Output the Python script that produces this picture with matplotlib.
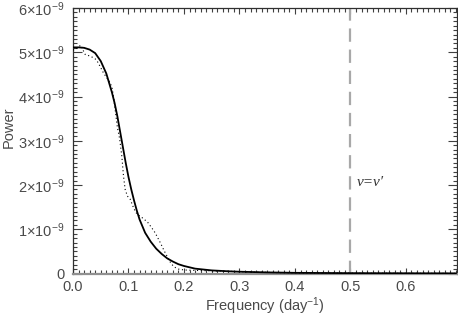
import matplotlib
matplotlib.use("Agg")
import matplotlib.pyplot as plt
from matplotlib.ticker import MultipleLocator, FixedLocator

plt.rcParams['font.family'] = ['Liberation Sans', 'DejaVu Sans']
plt.rcParams['mathtext.fontset'] = 'custom'
plt.rcParams['mathtext.rm'] = 'Liberation Sans'
plt.rcParams['mathtext.it'] = 'Liberation Sans:italic'
plt.rcParams['mathtext.default'] = 'regular'

# Smooth model power spectrum (solid)
model_freq = [0.000, 0.010, 0.020, 0.030, 0.040, 0.050, 0.060, 0.070, 0.075, 0.080,
              0.085, 0.090, 0.095, 0.100, 0.105, 0.110, 0.115, 0.120, 0.130, 0.140,
              0.150, 0.160, 0.170, 0.180, 0.190, 0.200, 0.220, 0.250, 0.280, 0.300,
              0.350, 0.400, 0.500, 0.600, 0.690]
model_power = [5.11, 5.11, 5.10, 5.06, 4.98, 4.80, 4.52, 4.10, 3.85, 3.55,
               3.20, 2.85, 2.50, 2.18, 1.90, 1.65, 1.42, 1.22, 0.92, 0.72,
               0.56, 0.44, 0.34, 0.27, 0.21, 0.17, 0.11, 0.07, 0.05, 0.04,
               0.025, 0.015, 0.008, 0.005, 0.003]

# Measured power spectrum (dotted)
data_freq = [0.000, 0.005, 0.010, 0.014, 0.018, 0.022, 0.027, 0.033, 0.040, 0.045,
             0.050, 0.055, 0.060, 0.065, 0.070, 0.073, 0.076, 0.080, 0.084, 0.088,
             0.091, 0.094, 0.098, 0.103, 0.108, 0.113, 0.120, 0.127, 0.135, 0.142,
             0.148, 0.153, 0.158, 0.164, 0.170, 0.176, 0.182, 0.190, 0.200, 0.220,
             0.250, 0.280, 0.300, 0.350, 0.400, 0.500, 0.600, 0.690]
data_power = [5.05, 5.07, 5.12, 5.16, 5.05, 4.95, 4.93, 4.90, 4.85, 4.77,
              4.65, 4.53, 4.44, 4.35, 4.22, 4.00, 3.70, 3.30, 3.05, 2.65,
              2.20, 1.90, 1.75, 1.68, 1.52, 1.38, 1.30, 1.24, 1.15, 1.03,
              0.92, 0.80, 0.68, 0.52, 0.38, 0.24, 0.15, 0.10, 0.08, 0.07,
              0.06, 0.05, 0.04, 0.025, 0.015, 0.008, 0.005, 0.003]

scale = 1e-9
nu_prime = 0.5

x_ticks = [0.0, 0.1, 0.2, 0.3, 0.4, 0.5, 0.6]
x_tick_labels = ['0.0', '0.1', '0.2', '0.3', '0.4', '0.5', '0.6']
y_ticks = [0, 1, 2, 3, 4, 5, 6]
y_tick_labels = ['0', '1×10$^{-9}$', '2×10$^{-9}$', '3×10$^{-9}$',
                 '4×10$^{-9}$', '5×10$^{-9}$', '6×10$^{-9}$']

text_color = '#4a4a4a'

fig = plt.figure(figsize=(4.58, 3.18), dpi=100)
ax = fig.add_axes([73/458, 44.5/318, 384/458, 265.5/318])

ax.plot(model_freq, [p * scale for p in model_power], color='black', lw=1.3, zorder=3)
ax.plot(data_freq, [p * scale for p in data_power], color='black', lw=0.8,
        linestyle=(0, (1, 2.4)), zorder=3)
ax.axvline(nu_prime, color='#a8a8a8', lw=1.6, linestyle=(0, (6, 3.5)), zorder=2)
ax.text(0.512, 2.06e-9, 'ν=ν\u2032', fontsize=11, color='#303030',
        family=['Liberation Serif', 'DejaVu Serif'], style='italic',
        va='center', ha='left')

ax.set_xlim(0, 0.692)
ax.set_ylim(0, 6e-9)

ax.xaxis.set_major_locator(FixedLocator(x_ticks))
ax.set_xticklabels(x_tick_labels)
ax.yaxis.set_major_locator(FixedLocator([v * scale for v in y_ticks]))
ax.set_yticklabels(y_tick_labels)
ax.xaxis.set_minor_locator(MultipleLocator(0.01))
ax.yaxis.set_minor_locator(MultipleLocator(0.1e-9))

ax.tick_params(which='both', direction='in', top=True, right=True,
               colors='#404040', labelcolor=text_color, labelsize=10.5, width=0.8)
ax.tick_params(axis='x', which='major', length=4.5, pad=5)
ax.tick_params(axis='y', which='major', length=6.5, pad=6)
ax.tick_params(which='minor', length=3)

for s in ax.spines.values():
    s.set_color('#303030')
    s.set_linewidth(0.9)
ax.spines['bottom'].set_color('#909090')
ax.spines['bottom'].set_linewidth(1.6)

ax.set_xlabel('Frequency (day$^{-1}$)', fontsize=10.5, color=text_color, labelpad=0.5)
ax.set_ylabel('Power', fontsize=10.5, color=text_color)
ax.yaxis.set_label_coords(-57/384, 0.55)

fig.savefig('out.png', dpi=100)
